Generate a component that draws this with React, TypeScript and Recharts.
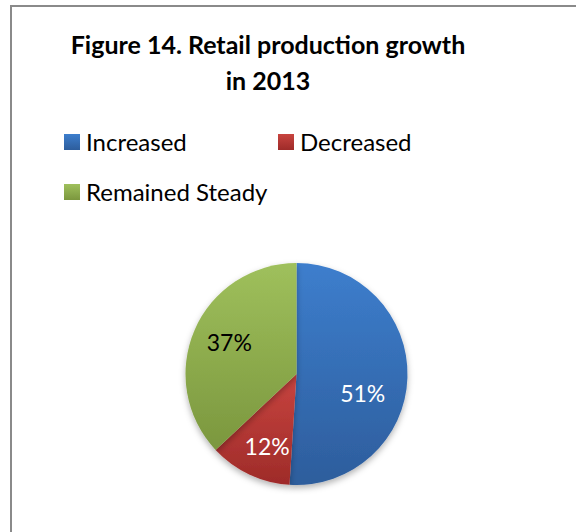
import { PieChart, Pie, Cell } from "recharts";

const categories = ["Increased", "Decreased", "Remained Steady"];
const shares = [51, 12, 37];

const COLORS = [
  { top: "#3d7ecd", bottom: "#2d5d9c" },
  { top: "#c8443f", bottom: "#9e2b29" },
  { top: "#9fc05c", bottom: "#7b973e" },
];
const LABEL_FILL = ["#ffffff", "#ffffff", "#000000"];
// Excel's best-fit nudges the labels a little off the slice's middle angle
const LABEL_ANGLE_SHIFT = [-14, 3, -2];
const LABEL_RADIUS = [0.62, 0.7, 0.67];

const FONT = "Lato, 'Open Sans', sans-serif";

const data = categories.map((name, i) => ({ name, value: shares[i] }));

const RADIAN = Math.PI / 180;

function renderLabel(props: any) {
  const { cx, cy, midAngle, outerRadius, index, percent } = props;
  const r = outerRadius * LABEL_RADIUS[index];
  const a = (midAngle + LABEL_ANGLE_SHIFT[index]) * RADIAN;
  const x = cx + r * Math.cos(-a);
  const y = cy + r * Math.sin(-a);
  return (
    <text
      x={x}
      y={y}
      fill={LABEL_FILL[index]}
      textAnchor="middle"
      dominantBaseline="central"
      fontSize={23}
      fontFamily={FONT}
    >
      {`${Math.round(percent * 100)}%`}
    </text>
  );
}

function ChartLegend() {
  const cols = [64, 278];
  const rows = [129, 179];
  return (
    <>
      {categories.map((name, i) => (
        <div
          key={name}
          style={{
            position: "absolute",
            left: cols[i % 2],
            top: rows[Math.floor(i / 2)],
            display: "flex",
            alignItems: "center",
            gap: 6,
            fontFamily: FONT,
            fontSize: 24,
            lineHeight: "26px",
            color: "#000",
            whiteSpace: "nowrap",
          }}
        >
          <div
            style={{
              width: 16,
              height: 16,
              background: `linear-gradient(${COLORS[i].top}, ${COLORS[i].bottom})`,
            }}
          />
          <span>{name}</span>
        </div>
      ))}
    </>
  );
}

export default function App() {
  return (
    <div style={{ position: "relative", width: 576, height: 532, overflow: "hidden", background: "#fff" }}>
      <style>{"body{margin:0}"}</style>
      <div
        style={{
          position: "absolute",
          left: 10,
          top: 5,
          width: 620,
          height: 620,
          border: "2px solid #8a8a8a",
        }}
      />
      <div
        style={{
          position: "absolute",
          left: 20,
          top: 26,
          width: 496,
          textAlign: "center",
          fontFamily: FONT,
          fontWeight: 700,
          fontSize: 25,
          lineHeight: "36px",
          color: "#000",
        }}
      >
        Figure 14. Retail production growth
        <br />
        in 2013
      </div>
      <ChartLegend />
      <div style={{ position: "absolute", left: 0, top: 0 }}>
        <PieChart width={576} height={532} margin={{ top: 0, right: 0, bottom: 0, left: 0 }}>
          <defs>
            {COLORS.map((c, i) => (
              <linearGradient key={i} id={`grad-${i}`} x1="0" y1="0" x2="0" y2="1">
                <stop offset="0%" stopColor={c.top} />
                <stop offset="100%" stopColor={c.bottom} />
              </linearGradient>
            ))}
            <filter id="shadow" x="-20%" y="-20%" width="140%" height="150%">
              <feDropShadow dx="0" dy="3" stdDeviation="3" floodColor="#000" floodOpacity="0.3" />
            </filter>
          </defs>
          <Pie
            data={data}
            dataKey="value"
            nameKey="name"
            cx={296.5}
            cy={374}
            outerRadius={111}
            startAngle={90}
            endAngle={-270}
            stroke="none"
            labelLine={false}
            label={renderLabel}
            isAnimationActive={false}
          >
            {data.map((_, i) => (
              <Cell key={`cell-${i}`} fill={`url(#grad-${i})`} style={{ filter: "url(#shadow)" }} />
            ))}
          </Pie>
        </PieChart>
      </div>
    </div>
  );
}
